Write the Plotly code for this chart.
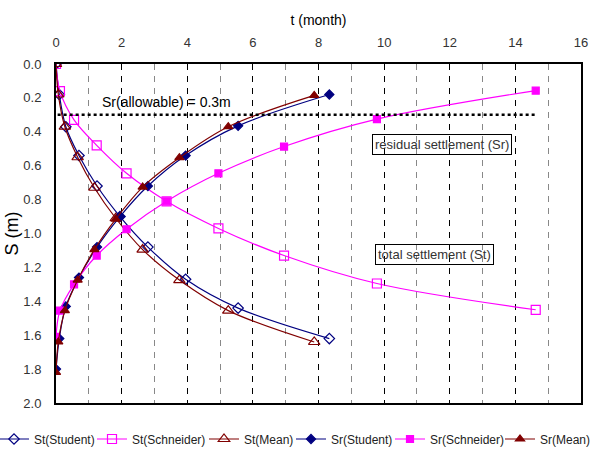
import plotly.graph_objects as go

# ---------------- data ----------------
t_student = [0, 0.1, 0.3, 0.7, 1.25, 1.95, 2.8, 3.95, 5.55, 8.33]
st_student = [0, 0.18, 0.37, 0.54, 0.72, 0.90, 1.08, 1.27, 1.44, 1.62]
sr_student = [1.80, 1.62, 1.43, 1.26, 1.08, 0.90, 0.72, 0.54, 0.365, 0.18]

t_schneider = [0, 0.12, 0.55, 1.24, 2.15, 3.37, 4.95, 6.95, 9.78, 14.62]
st_schneider = [0, 0.16, 0.33, 0.48, 0.645, 0.81, 0.97, 1.13, 1.295, 1.45]
sr_schneider = [1.61, 1.455, 1.30, 1.13, 0.975, 0.81, 0.645, 0.487, 0.325, 0.157]

t_mean = [0, 0.07, 0.27, 0.66, 1.17, 1.82, 2.64, 3.76, 5.25, 7.87]
st_mean = [0, 0.18, 0.37, 0.55, 0.73, 0.91, 1.095, 1.275, 1.455, 1.64]
sr_mean = [1.82, 1.64, 1.455, 1.275, 1.095, 0.915, 0.726, 0.553, 0.37, 0.185]

allow_t = [0.05, 14.65]
allow_s = [0.3, 0.3]

x_ticks = [0, 2, 4, 6, 8, 10, 12, 14, 16]
y_ticks = [0.0, 0.2, 0.4, 0.6, 0.8, 1.0, 1.2, 1.4, 1.6, 1.8, 2.0]

NAVY = "#000080"
MAG = "#FF00FF"
MAROON = "#800000"
FONT = "Liberation Sans, Arial, sans-serif"

fig = go.Figure()

series = [
    ("St(Student)", t_student, st_student, NAVY, "diamond-open", 8, "legend"),
    ("St(Schneider)", t_schneider, st_schneider, MAG, "square-open", 9, "legend2"),
    ("St(Mean)", t_mean, st_mean, MAROON, "triangle-up-open", 10, "legend3"),
    ("Sr(Student)", t_student, sr_student, NAVY, "diamond", 7, "legend4"),
    ("Sr(Schneider)", t_schneider, sr_schneider, MAG, "square", 7, "legend5"),
    ("Sr(Mean)", t_mean, sr_mean, MAROON, "triangle-up", 8, "legend6"),
]

for name, tx, sy, col, sym, size, lg in series:
    fig.add_trace(go.Scatter(
        x=tx, y=sy, name=name, mode="lines+markers",
        line=dict(color=col, width=1.2, shape="spline", smoothing=1.0),
        marker=dict(symbol=sym, size=size, color=col, line=dict(color=col, width=1.2)),
        legend=lg,
    ))

fig.add_trace(go.Scatter(
    x=allow_t, y=allow_s, mode="lines", showlegend=False,
    line=dict(color="black", width=2.5, dash="dot"), hoverinfo="skip",
))

# legends: one per item, placed side by side below the plot
plot_l, plot_w = 56, 525
line_starts = [0, 98, 210, 297, 396, 506]
legend_y = (403 - 439) / 339
for i, ls in enumerate(line_starts):
    key = "legend" if i == 0 else f"legend{i+1}"
    fig.update_layout(**{key: dict(
        x=(ls - 6 - plot_l) / plot_w, xanchor="left",
        y=legend_y, yanchor="middle",
        orientation="h", bgcolor="rgba(0,0,0,0)", borderwidth=0,
        font=dict(family=FONT, size=12, color="#222"),
        itemwidth=30,
    )})

fig.add_annotation(x=3.36, y=0.226, text="Sr(allowable) = 0.3m", showarrow=False,
                   font=dict(family=FONT, size=14, color="black"))
fig.add_annotation(x=11.76, y=0.475, text="residual settlement (Sr)", showarrow=False,
                   font=dict(family=FONT, size=13, color="#333"),
                   bordercolor="black", borderwidth=1, borderpad=2)
fig.add_annotation(x=11.55, y=1.125, text="total settlement (St)", showarrow=False,
                   font=dict(family=FONT, size=13, color="#333"),
                   bordercolor="black", borderwidth=1, borderpad=2)

fig.update_xaxes(
    side="top", range=[0, 16], tickvals=x_ticks, ticktext=[str(v) for v in x_ticks],
    showgrid=True, gridcolor="black", griddash="6px,6px", gridwidth=1,
    minor=dict(dtick=1, tick0=0, showgrid=True, gridcolor="#888", griddash="6px,6px", gridwidth=1),
    showline=True, linecolor="black", linewidth=2, mirror=True,
    zeroline=False, ticks="", ticklabelstandoff=10,
    tickfont=dict(family=FONT, size=13, color="#333"),
    title=dict(text="t (month)", font=dict(family=FONT, size=14, color="black"), standoff=6),
)
fig.update_yaxes(
    range=[2.0, 0.0], tickvals=y_ticks, ticktext=[f"{v:.1f}" for v in y_ticks],
    showgrid=False, zeroline=False, ticks="", ticklabelstandoff=10,
    showline=True, linecolor="black", linewidth=2, mirror=True,
    tickfont=dict(family=FONT, size=13, color="#333"),
    title=dict(text="S (m)", font=dict(family=FONT, size=18, color="black"), standoff=0),
)

fig.update_layout(
    width=590, height=451,
    margin=dict(l=56, r=9, t=64, b=48, autoexpand=False),
    plot_bgcolor="white", paper_bgcolor="white",
    font=dict(family=FONT),
)

fig.write_html("out.html", config={"displayModeBar": False},
               post_script="document.body.style.margin='0px';document.body.style.padding='0px';")
